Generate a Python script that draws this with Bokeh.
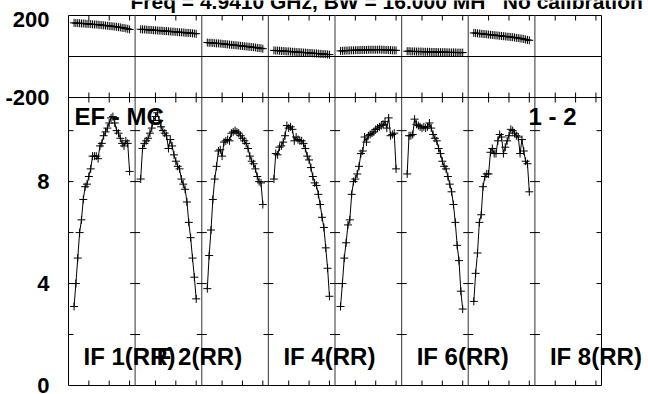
from bokeh.plotting import figure
from bokeh.models import Range1d, FixedTicker, Label
from bokeh.embed import file_html
from bokeh.resources import INLINE

# ---------------- data ----------------
channels = list(range(1, 32))
chan_ticks = [9, 20, 31]
amp_ticks = [0, 4, 8]
amp_minor_ticks = [2, 4, 6, 8, 10]
phase_ticks = [-200, 200]

if_labels = ["IF 1(RR)", "IF 2(RR)", "IF 3(RR)", "IF 4(RR)",
             "IF 5(RR)", "IF 6(RR)", "IF 7(RR)", "IF 8(RR)"]
shown_if_labels = [0, 1, 3, 5, 7]

amp_if1 = [3.1, 4.0, 5.0, 6.0, 6.5, 7.3, 7.8, 7.9, 8.2, 8.5, 9.0, 9.0, 9.0, 8.9, 9.4, 9.5,
           9.8, 9.95, 10.1, 10.3, 10.5, 10.55, 10.3, 10.0, 9.9, 9.7, 9.5, 9.4, 9.6, 9.5, 8.4]
amp_if2 = [8.1, 9.3, 9.5, 9.6, 9.7, 9.9, 10.1, 10.4, 10.55, 10.7, 10.4, 10.15, 10.0, 9.9, 9.8,
           9.3, 9.65, 9.4, 9.05, 8.8, 8.6, 8.5, 8.1, 7.9, 7.7, 7.2, 6.4, 5.8, 5.0, 4.25, 3.4]
amp_if3 = [3.8, 5.1, 6.1, 7.3, 8.1, 8.6, 9.2, 9.25, 9.0, 9.55, 9.6, 9.65, 9.6, 9.9, 9.95, 10.0,
           9.95, 9.9, 9.8, 9.7, 9.6, 9.5, 9.3, 9.0, 8.8, 8.7, 8.5, 8.2, 8.0, 7.95, 7.1]
amp_if4 = [8.1, 9.1, 9.05, 9.35, 9.4, 9.55, 9.8, 10.2, 10.1, 10.15, 10.05, 9.6, 9.75, 9.65, 9.6,
           9.6, 9.5, 9.3, 9.0, 8.85, 8.55, 8.2, 7.95, 7.85, 7.5, 7.1, 6.6, 6.2, 5.4, 4.6, 3.5]
amp_if5 = [3.1, 4.0, 5.0, 5.6, 6.3, 6.5, 7.5, 8.0, 8.1, 8.3, 8.6, 9.1, 9.2, 9.75, 9.55, 9.8,
           9.85, 9.9, 9.95, 10.05, 10.1, 10.15, 10.2, 10.25, 10.35, 10.1, 10.5, 9.8, 9.85, 9.9, 8.5]
amp_if6 = [8.3, 9.8, 9.8, 9.85, 10.45, 10.25, 10.2, 10.15, 10.1, 10.15, 10.1, 10.15, 10.3, 10.1,
           9.85, 9.7, 9.6, 9.3, 9.1, 8.8, 8.6, 8.5, 8.2, 7.9, 7.6, 7.1, 6.4, 5.5, 4.9, 3.7, 3.0]
amp_if7 = [3.3, 4.4, 5.2, 6.4, 6.7, 7.8, 8.2, 8.3, 8.3, 9.15, 9.3, 9.1, 9.1, 9.6, 9.85, 9.75,
           9.1, 9.35, 9.6, 9.8, 10.05, 10.0, 9.9, 9.8, 9.75, 9.1, 9.65, 9.2, 8.8, 8.7, 7.6]

phase_if1 = [164, 163, 163, 162, 161, 161, 160, 159, 159, 158, 157, 156, 156, 155, 154, 153,
             152, 151, 150, 149, 148, 147, 146, 145, 143, 142, 140, 139, 137, 135, 132]
phase_if2 = [133, 132, 132, 131, 130, 130, 129, 128, 128, 127, 126, 126, 125, 124, 124, 123,
             122, 121, 121, 120, 119, 118, 118, 117, 116, 115, 115, 114, 113, 112, 111]
phase_if3 = [68, 67, 67, 66, 65, 64, 64, 63, 62, 61, 60, 59, 58, 57, 56, 55,
             54, 53, 52, 51, 50, 49, 48, 47, 46, 45, 44, 42, 41, 40, 38]
phase_if4 = [30, 29, 29, 28, 27, 27, 26, 25, 25, 24, 23, 23, 22, 21, 21, 20,
             19, 19, 18, 17, 17, 16, 15, 15, 14, 13, 12, 12, 11, 10, 9]
phase_if5 = [27, 28, 28, 29, 29, 30, 30, 30, 31, 31, 31, 32, 32, 32, 32, 33,
             33, 33, 33, 33, 33, 34, 33, 33, 32, 32, 31, 31, 30, 30, 30]
phase_if6 = [26, 26, 25, 25, 25, 24, 24, 24, 24, 23, 23, 23, 23, 22, 22, 22,
             22, 21, 21, 21, 21, 21, 20, 20, 20, 20, 20, 19, 19, 19, 19]
phase_if7 = [115, 114, 113, 112, 111, 110, 109, 108, 107, 106, 105, 104, 103, 102, 101, 100,
             99, 98, 97, 96, 95, 94, 93, 91, 90, 88, 87, 85, 83, 81, 79]

amp_series = [amp_if1, amp_if2, amp_if3, amp_if4, amp_if5, amp_if6, amp_if7, []]
phase_series = [phase_if1, phase_if2, phase_if3, phase_if4, phase_if5, phase_if6, phase_if7, []]

title_text = "Freq = 4.9410 GHz, BW = 16.000 MH\u00a0\u00a0 No calibration"

# ---------------- layout ----------------
FONT = "Liberation Sans"
W, H = 648, 394
N_PANELS = 8
CH_LO, CH_HI = -2, 34
PW = CH_HI - CH_LO
BOX_W = 533            # width of the drawn plot box, px
AMP_H = 288            # amplitude panel height, px
PH_H = 82              # phase panel height, px
AMP_TOP = 11.3
PH_LO, PH_HI = -200, 200
LEFT = 68              # page x of the box's left edge
BOT = 385              # page y of amplitude 0
FL = 60                # page x of the frame's left edge

XPP = PW * N_PANELS / BOX_W
YPP = AMP_TOP / AMP_H
PPP = (PH_HI - PH_LO) / PH_H
TL = 5


def xd(px):
    return CH_LO + (px - LEFT) * XPP


def yd(py):
    return (BOT - py) * YPP


def phase_to_amp(v):
    return AMP_TOP + (v - PH_LO) / PPP * YPP


X_LO, X_HI = CH_LO, CH_LO + N_PANELS * PW
Y_TOP = phase_to_amp(PH_HI)
PH_TOP_PAGE = BOT - AMP_H  # page y of phase -200

p = figure(
    width=W, height=H,
    frame_width=W - FL, frame_height=H,
    min_border_left=FL, min_border_right=0, min_border_top=0, min_border_bottom=0,
    x_range=Range1d(xd(FL), xd(W)),
    y_range=Range1d(yd(H), yd(0)),
    x_axis_location=None, y_axis_location="left",
    toolbar_location=None, output_backend="svg",
)
p.extra_y_ranges = {"phase": Range1d(PH_LO - (H - PH_TOP_PAGE) * PPP,
                                     PH_LO + PH_TOP_PAGE * PPP)}
p.grid.visible = False
p.outline_line_color = None
p.background_fill_color = "white"
p.border_fill_color = "white"

# left axis: amplitude labels plus the phase labels of the upper panel
label_pos = {float(t): str(t) for t in amp_ticks}
for v in phase_ticks:
    pos = round(phase_to_amp(v if v < PH_HI else v - 4 * PPP), 3)
    label_pos[pos] = str(v)
ax = p.yaxis[0]
ax.ticker = FixedTicker(ticks=sorted(label_pos))
ax.major_label_overrides = label_pos
ax.major_tick_in = 0
ax.major_tick_out = 0
ax.minor_tick_in = 0
ax.minor_tick_out = 0
ax.axis_line_color = None
ax.major_label_standoff = LEFT - FL + 3
ax.major_label_text_font = FONT
ax.major_label_text_font_style = "bold"
ax.major_label_text_font_size = "22px"
ax.major_label_text_color = "black"

# plot box, panel separators, zero line
p.segment(x0=[X_LO, X_HI, X_LO, X_LO], y0=[0, 0, 0, Y_TOP],
          x1=[X_LO, X_HI, X_HI, X_HI], y1=[Y_TOP, Y_TOP, 0, Y_TOP],
          line_color="black", line_width=1)
div_x = [CH_LO + i * PW for i in range(1, N_PANELS)]
p.segment(x0=div_x, y0=[0] * len(div_x), x1=div_x, y1=[Y_TOP] * len(div_x),
          line_color="#555555", line_width=1.2)
p.segment(x0=[X_LO, X_LO], y0=[PH_LO, 0], x1=[X_HI, X_HI], y1=[PH_LO, 0],
          line_color="black", line_width=1, y_range_name="phase")

# ticks on panel boundaries (amplitude)
bx0, bx1, by = [], [], []
for i in range(N_PANELS + 1):
    b = CH_LO + i * PW
    for t in amp_minor_ticks:
        bx0.append(b - TL * XPP if i > 0 else b)
        bx1.append(b + TL * XPP if i < N_PANELS else b)
        by.append(t)
p.segment(x0=bx0, y0=by, x1=bx1, y1=by, line_color="black", line_width=1)

# x ticks
tx = [i * PW + c for i in range(N_PANELS) for c in chan_ticks]
n = len(tx)
p.segment(x0=tx, y0=[0] * n, x1=tx, y1=[TL * YPP] * n, line_color="black")
p.segment(x0=tx, y0=[AMP_TOP - TL * YPP] * n, x1=tx, y1=[AMP_TOP] * n, line_color="black")
p.segment(x0=tx, y0=[PH_LO] * n, x1=tx, y1=[PH_LO + TL * PPP] * n,
          line_color="black", y_range_name="phase")
p.segment(x0=tx, y0=[PH_HI - TL * PPP] * n, x1=tx, y1=[PH_HI] * n,
          line_color="black", y_range_name="phase")

# data
for i in range(N_PANELS):
    a = amp_series[i]
    ph = phase_series[i]
    if not a:
        continue
    xs = [i * PW + c for c in channels]
    p.line(xs, a, line_color="black", line_width=1)
    p.scatter(xs, a, marker="cross", size=8, line_color="black", line_width=1)
    p.line(xs, ph, line_color="black", line_width=1, y_range_name="phase")
    p.scatter(xs, ph, marker="cross", size=8, line_color="black", line_width=1,
              y_range_name="phase")

common = dict(text_font=FONT, text_font_style="bold", text_color="black",
              text_baseline="middle", text_align="left")
# y positions: centre of the capital letters on the page
p.add_layout(Label(x=xd(130), y=yd(1), text=title_text, text_font_size="21px", **common))
p.add_layout(Label(x=xd(74), y=yd(115.5), text="EF - MC", text_font_size="24px", **common))
p.add_layout(Label(x=xd(528), y=yd(115.5), text="1 - 2", text_font_size="24px", **common))
for i in shown_if_labels:
    p.add_layout(Label(x=CH_LO + i * PW + 15 * XPP, y=yd(355.5), text=if_labels[i],
                       text_font_size="24px", **common))

open("out.html", "w").write(file_html(p, INLINE))
